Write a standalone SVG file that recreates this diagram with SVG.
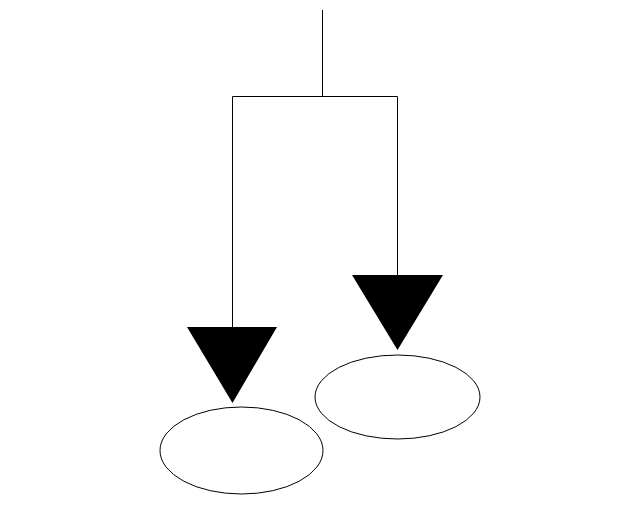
<svg xmlns="http://www.w3.org/2000/svg" width="640" height="505" viewBox="0 0 640 505">
<style>
.line{fill:none;stroke:#000;stroke-width:1}
.head{fill:#000;stroke:none}
.node{fill:#fff;stroke:#000;stroke-width:1}
</style>
<rect width="640" height="505" fill="#fff"/>
<g id="connectors">
<polyline class="line" points="322.5,10 322.5,96.5"/>
<polyline class="line" points="232.5,327 232.5,96.5 397.5,96.5 397.5,275"/>
<polygon class="head" points="187,327 277,327 232.5,403"/>
<polygon class="head" points="352,275 443,275 397.5,350"/>
</g>
<g id="node-left">
<ellipse class="node" cx="241.5" cy="450.5" rx="81.5" ry="43.5"/>
</g>
<g id="node-right">
<ellipse class="node" cx="397.5" cy="397" rx="82.5" ry="42"/>
</g>
</svg>
